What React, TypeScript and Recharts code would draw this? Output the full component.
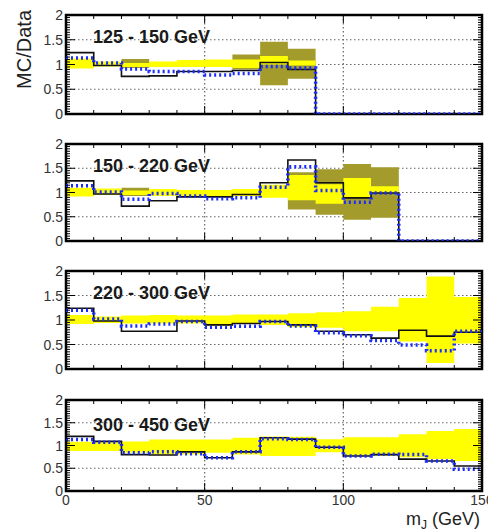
import React from 'react';
import { ComposedChart, Area, Line, XAxis, YAxis, CartesianGrid, ReferenceArea } from 'recharts';

// bin edges of m_J (GeV), 10 GeV bins
const binEdges = [0, 10, 20, 30, 40, 50, 60, 70, 80, 90, 100, 110, 120, 130, 140, 150];
const xLabels = [0, 50, 100, 150];
const yLabels = [0, 0.5, 1, 1.5, 2];
const yGrid = [0.5, 1, 1.5];
const xGrid = [50, 100];
const xDomain = [0, 150];
const yDomain = [0, 2];

const titles = ['125 - 150 GeV', '150 - 220 GeV', '220 - 300 GeV', '300 - 450 GeV'];

// 125 - 150 GeV
const p1Black = [1.24, 0.98, 0.76, 0.77, 0.86, 0.86, 0.88, 1.04, 0.9, 0, 0, 0, 0, 0, 0];
const p1Blue = [1.13, 1.03, 0.91, 0.86, 0.86, 0.79, 0.82, 0.96, 0.93, 0, 0, 0, 0, 0, 0];
const p1YelLo = [0.92, 0.96, 0.95, 0.95, 0.95, 0.95, 0.93, 1.0, 0.98, null, null, null, null, null, null];
const p1YelHi = [1.12, 1.06, 1.03, 1.06, 1.09, 1.1, 1.1, 1.17, 1.08, null, null, null, null, null, null];
const p1OliLo = [null, null, 0.93, null, null, null, 0.9, 0.58, 0.71, null, null, null, null, null, null];
const p1OliHi = [null, null, 1.11, null, null, null, 1.2, 1.46, 1.32, null, null, null, null, null, null];

// 150 - 220 GeV
const p2Black = [1.24, 0.97, 0.72, 0.83, 0.91, 0.91, 0.96, 1.2, 1.67, 1.2, 0.89, 0.99, 0, 0, 0];
const p2Blue = [1.14, 1.01, 0.86, 0.98, 0.93, 0.87, 0.89, 1.11, 1.53, 1.04, 0.8, 0.99, 0, 0, 0];
const p2YelLo = [0.92, 0.95, 0.95, 0.93, 0.93, 0.91, 0.93, 0.89, 0.84, 0.77, 0.89, 0.99, null, null, null];
const p2YelHi = [1.1, 1.08, 1.04, 1.07, 1.05, 1.05, 1.07, 1.16, 1.36, 1.17, 1.3, 1.13, null, null, null];
const p2OliLo = [null, null, 0.93, null, null, null, null, null, 0.65, 0.54, 0.44, 0.48, null, null, null];
const p2OliHi = [null, null, 1.1, null, null, null, null, null, 1.42, 1.48, 1.59, 1.52, null, null, null];

// 220 - 300 GeV
const p3Black = [1.24, 0.98, 0.77, 0.77, 0.98, 0.9, 0.93, 0.97, 0.9, 0.77, 0.7, 0.63, 0.79, 0.67, 0.75];
const p3Blue = [1.2, 1.02, 0.88, 0.92, 0.97, 0.85, 0.87, 0.97, 0.88, 0.74, 0.68, 0.58, 0.49, 0.37, 0.77];
const p3YelLo = [0.92, 0.94, 0.93, 0.93, 0.93, 0.88, 0.92, 0.9, 0.85, 0.84, 0.77, 0.77, 0.56, 0.12, 0.52];
const p3YelHi = [1.1, 1.07, 1.09, 1.1, 1.09, 1.09, 1.11, 1.11, 1.14, 1.16, 1.18, 1.27, 1.45, 1.89, 1.47];

// 300 - 450 GeV
const p4Black = [1.2, 1.09, 0.8, 0.79, 0.86, 0.73, 0.86, 1.17, 1.14, 0.96, 0.77, 0.8, 0.7, 0.66, 0.55];
const p4Blue = [1.13, 1.07, 0.84, 0.86, 0.82, 0.73, 0.86, 1.15, 1.13, 0.96, 0.77, 0.81, 0.8, 0.66, 0.48];
const p4YelLo = [0.88, 0.88, 0.84, 0.8, 0.8, 0.84, 0.8, 0.77, 0.77, 0.85, 0.77, 0.77, 0.74, 0.7, 0.66];
const p4YelHi = [1.08, 1.09, 1.09, 1.13, 1.13, 1.13, 1.17, 1.2, 1.19, 1.14, 1.18, 1.18, 1.25, 1.32, 1.36];

const noBand = binEdges.slice(1).map(() => null);

// two rows per bin so that linear series draw histogram steps
const buildRows = (black: number[], blue: number[], yelLo: any[], yelHi: any[], oliLo: any[], oliHi: any[]) => {
  const rows: any[] = [];
  for (let i = 0; i < black.length; i++) {
    const entry = {
      black: black[i],
      blue: blue[i],
      yellow: yelLo[i] == null ? null : [yelLo[i], yelHi[i]],
      olive: oliLo[i] == null ? null : [oliLo[i], oliHi[i]],
    };
    rows.push({ m: binEdges[i], ...entry }, { m: binEdges[i + 1], ...entry });
  }
  return rows;
};

const panels = [
  { title: titles[0], top: 15, plotH: 99, rows: buildRows(p1Black, p1Blue, p1YelLo, p1YelHi, p1OliLo, p1OliHi) },
  { title: titles[1], top: 144, plotH: 97, rows: buildRows(p2Black, p2Blue, p2YelLo, p2YelHi, p2OliLo, p2OliHi) },
  { title: titles[2], top: 271, plotH: 98, rows: buildRows(p3Black, p3Blue, p3YelLo, p3YelHi, noBand, noBand) },
  { title: titles[3], top: 400, plotH: 91, rows: buildRows(p4Black, p4Blue, p4YelLo, p4YelHi, noBand, noBand) },
];

const W = 488;
const LEFT = 66;
const RIGHT = 6;
const PLOT_W = W - LEFT - RIGHT;
const MT = 10;
const FONT = '"Liberation Sans", Arial, Helvetica, sans-serif';

const yMinor: number[] = [];
for (let k = 0; k <= 40; k++) yMinor.push(k * 0.05);
const xMinor = binEdges;

const isMajorY = (v: number) => yLabels.some((t) => Math.abs(t - v) < 1e-6);

const makeYTick = () => (props: any) => {
  const { x, y, payload } = props;
  const v = payload.value;
  const major = isMajorY(v);
  const ax = x + 3;
  const len = major ? 9 : 4;
  return (
    <g>
      <line x1={ax} x2={ax + len} y1={y} y2={y} stroke="#000" strokeWidth={1} />
      <line x1={ax + PLOT_W} x2={ax + PLOT_W - len} y1={y} y2={y} stroke="#000" strokeWidth={1} />
      {major && (
        <text x={x} y={y} dy={5} textAnchor="end" fontSize={14} fill="#333" fontFamily={FONT}>
          {Math.round(v * 10) / 10}
        </text>
      )}
    </g>
  );
};

const makeXTick = (plotH: number, showLabels: boolean) => (props: any) => {
  const { x, y, payload } = props;
  const v = payload.value;
  const major = xLabels.includes(v);
  const len = major ? 8 : 4;
  return (
    <g>
      <line x1={x} x2={x} y1={y} y2={y - len} stroke="#000" strokeWidth={1} />
      <line x1={x} x2={x} y1={y - plotH} y2={y - plotH + len} stroke="#000" strokeWidth={1} />
      {showLabels && major && (
        <text x={x} y={y + 14} textAnchor="middle" fontSize={14} fill="#333" fontFamily={FONT}>
          {v}
        </text>
      )}
    </g>
  );
};

const Panel = ({ p, last }: { p: any; last: boolean }) => {
  const xh = last ? 22 : 8;
  return (
    <div style={{ position: 'absolute', left: 0, top: p.top - MT }}>
      <ComposedChart width={W} height={p.plotH + MT + xh} data={p.rows} margin={{ top: MT, right: RIGHT, bottom: 0, left: 0 }}>
        <CartesianGrid horizontalValues={yGrid} verticalValues={xGrid} stroke="#666" strokeDasharray="1.5 2.5" strokeWidth={1.2} />
        <XAxis
          dataKey="m"
          type="number"
          domain={xDomain}
          ticks={xMinor}
          interval={0}
          allowDataOverflow
          height={xh}
          tickSize={0}
          tickMargin={0}
          tickLine={false}
          axisLine={false}
          tick={makeXTick(p.plotH, last)}
        />
        <YAxis
          type="number"
          domain={yDomain}
          ticks={yMinor}
          interval={0}
          allowDataOverflow
          width={LEFT}
          tickSize={0}
          tickMargin={3}
          tickLine={false}
          axisLine={false}
          tick={makeYTick()}
        />
        <Area dataKey="olive" type="linear" fill="#a39c2c" fillOpacity={1} stroke="none" connectNulls={false} dot={false} activeDot={false} isAnimationActive={false} />
        <Area dataKey="yellow" type="linear" fill="#ffff00" fillOpacity={1} stroke="none" connectNulls={false} dot={false} activeDot={false} isAnimationActive={false} />
        <Line dataKey="black" type="linear" stroke="#111" strokeWidth={1.6} dot={false} activeDot={false} isAnimationActive={false} />
        <Line dataKey="blue" type="linear" stroke="#1a2cff" strokeWidth={3.5} strokeDasharray="2 3" dot={false} activeDot={false} isAnimationActive={false} />
        <ReferenceArea x1={xDomain[0]} x2={xDomain[1]} y1={yDomain[0]} y2={yDomain[1]} fill="none" fillOpacity={0} stroke="#000" strokeWidth={2.5} />
      </ComposedChart>
    </div>
  );
};

export default function App() {
  return (
    <div style={{ position: 'absolute', left: 0, top: 0, width: W, height: 532, background: '#fff', overflow: 'hidden', fontFamily: FONT }}>
      {panels.map((p, i) => (
        <Panel key={p.title} p={p} last={i === panels.length - 1} />
      ))}
      <svg width={W} height={532} style={{ position: 'absolute', left: 0, top: 0, pointerEvents: 'none' }}>
        {panels.map((p, i) => (
          <text key={p.title} x={93} y={p.top + (i === 3 ? 31 : 28)} fontSize={18} fontWeight="bold" fill="#1a1a1a" fontFamily={FONT}>
            {p.title}
          </text>
        ))}
        <text transform="translate(31, 10) rotate(-90)" textAnchor="end" fontSize={20} fill="#222" fontFamily={FONT}>
          MC/Data
        </text>
        <text x={480} y={525} textAnchor="end" fontSize={18} fill="#222" fontFamily={FONT}>
          <tspan>m</tspan>
          <tspan fontSize={12} dy={4}>J</tspan>
          <tspan dy={-4}> (GeV)</tspan>
        </text>
      </svg>
    </div>
  );
}
